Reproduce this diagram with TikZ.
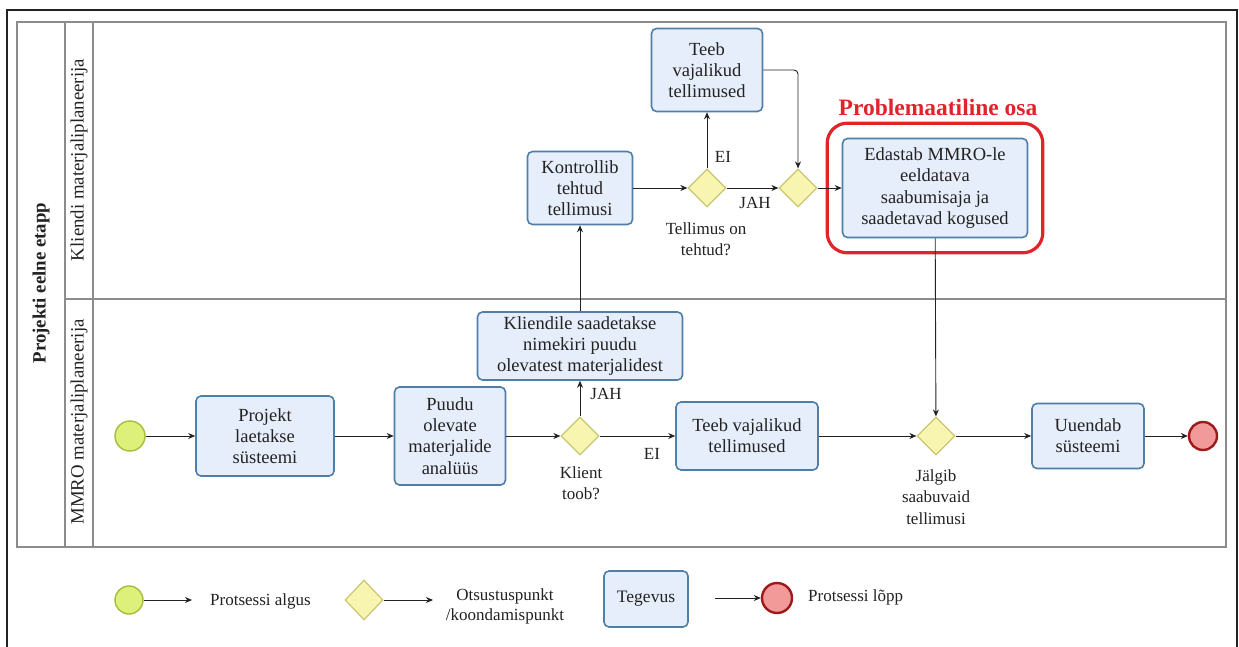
\documentclass[tikz,border=0pt]{standalone}
\usepackage{fontspec}
\setmainfont{Liberation Serif}
\usetikzlibrary{arrows.meta,shapes.geometric,fit}

\definecolor{taskfill}{HTML}{E7EEFB}
\definecolor{taskline}{HTML}{4F7FA8}
\definecolor{gatefill}{HTML}{F7F5B0}
\definecolor{gateline}{HTML}{C9C772}
\definecolor{startfill}{HTML}{DDF07A}
\definecolor{startline}{HTML}{A5BE3C}
\definecolor{endfill}{HTML}{F29A9A}
\definecolor{endline}{HTML}{9E1A1A}
\definecolor{alert}{HTML}{E0242C}
\definecolor{poolline}{HTML}{8C8C8C}
\definecolor{ink}{HTML}{222222}

\tikzset{
  task/.style={draw=taskline, fill=taskfill, rounded corners=5pt, line width=1.6pt,
    align=center, inner sep=2pt, text=ink, font=\fontsize{18.5}{21.3}\selectfont},
  gate/.style={diamond, aspect=1, draw=gateline, fill=gatefill, line width=1.2pt,
    minimum width=38pt, minimum height=38pt, inner sep=0pt},
  startev/.style={circle, draw=startline, fill=startfill, line width=1.4pt,
    minimum size=30pt, inner sep=0pt},
  endev/.style={circle, draw=endline, fill=endfill, line width=2.4pt,
    minimum size=28pt, inner sep=0pt},
  flow/.style={draw=ink, line width=0.9pt, -{Stealth[length=7pt,width=6pt]}},
  lbl/.style={text=ink, align=center, inner sep=0pt, font=\fontsize{17}{21.5}\selectfont},
  lanetxt/.style={rotate=90, text=ink, inner sep=0pt, font=\fontsize{18.8}{22}\selectfont},
  legtxt/.style={text=ink, align=center, inner sep=0pt, font=\fontsize{17}{20}\selectfont},
}

\begin{document}
\begin{tikzpicture}[x=1pt, y=-1pt]
\useasboundingbox (0,0) rectangle (1239,647);
\fill[white] (0,0) rectangle (1239,647);

% outer frame (open towards the bottom of the page)
\draw[ink, line width=1.6pt] (7,660) -- (7,10) -- (1237,10) -- (1237,660);

% pool with two lanes
\draw[poolline, line width=1.8pt] (17,22) rectangle (1226,547);
\draw[poolline, line width=1.3pt] (65,22) -- (65,547);
\draw[poolline, line width=1.3pt] (93,22) -- (93,547);
\draw[poolline, line width=1.3pt] (65,299) -- (1226,299);

\node[lanetxt, font=\fontsize{18.8}{22}\selectfont\bfseries] (pool) at (41,283) {Projekti eelne etapp};
\node[lanetxt] (laneA) at (79,160) {Kliendi materjaliplaneerija};
\node[lanetxt] (laneB) at (79,422) {MMRO materjaliplaneerija};

% lower lane
\node[startev] (start) at (130,436) {};
\node[task, minimum width=138pt, minimum height=80pt] (load) at (265,436) {Projekt\\laetakse\\süsteemi};
\node[task, minimum width=111pt, minimum height=98pt] (analysis) at (450,436) {Puudu\\olevate\\materjalide\\analüüs};
\node[gate] (gbring) at (580,436) {};
\node[task, minimum width=205pt, minimum height=68pt] (notify) at (580,346) {Kliendile saadetakse\\nimekiri puudu\\olevatest materjalidest};
\node[task, minimum width=142pt, minimum height=68pt] (orderB) at (747,436) {Teeb vajalikud\\tellimused};
\node[gate] (gtrack) at (936,436) {};
\node[task, minimum width=112pt, minimum height=65pt] (update) at (1088,436) {Uuendab\\süsteemi};
\node[endev] (finish) at (1203,436) {};

% upper lane
\node[task, minimum width=105pt, minimum height=73pt] (check) at (580,188) {Kontrollib\\tehtud\\tellimusi};
\node[gate] (gdone) at (707,188) {};
\node[task, minimum width=111pt, minimum height=83pt] (orderA) at (707,70) {Teeb\\vajalikud\\tellimused};
\node[gate] (gmerge) at (798,188) {};
\node[task, minimum width=185pt, minimum height=99pt] (forward) at (935,188) {Edastab MMRO-le\\eeldatava\\saabumisaja ja\\saadetavad kogused};
\node[draw=alert, line width=3.2pt, rounded corners=20pt, fit=(forward), inner sep=14.5pt] (focus) {};
\node[text=alert, inner sep=0pt, font=\fontsize{23.5}{26}\selectfont\bfseries] (focustitle) at (938,107) {Problemaatiline osa};

% gateway captions and branch labels
\node[lbl] (capbring) at (581,483) {Klient\\toob?};
\node[lbl] (capdone) at (706,239) {Tellimus on\\tehtud?};
\node[lbl] (captrack) at (936,497) {Jälgib\\saabuvaid\\tellimusi};
\node[lbl] (yesA) at (606,394) {JAH};
\node[lbl] (noA) at (652,454) {EI};
\node[lbl] (noB) at (723,157) {EI};
\node[lbl] (yesB) at (755,203) {JAH};

% sequence flows
\draw[flow] (start) -- (load);
\draw[flow] (load) -- (analysis);
\draw[flow] (analysis) -- (gbring);
\draw[flow] (gbring) -- (notify);
\draw[flow] (gbring) -- (orderB);
\draw[flow] (notify) -- (check);
\draw[flow] (check) -- (gdone);
\draw[flow] (gdone) -- (orderA);
\draw[flow] (gdone) -- (gmerge);
\draw[flow, rounded corners=4pt] (orderA.east) -| (gmerge.north);
\draw[flow] (gmerge) -- (forward);
\draw[flow] (forward) -- (gtrack);
\draw[flow] (orderB) -- (gtrack);
\draw[flow] (gtrack) -- (update);
\draw[flow] (update) -- (finish);

% legend
\node[startev, minimum size=28pt] (lgstart) at (129,600) {};
\coordinate (lgstartend) at (192,600);
\draw[flow] (lgstart) -- (lgstartend);
\node[legtxt, anchor=west] (lgstarttxt) at (210,601) {Protsessi algus};
\node[gate, minimum width=38pt, minimum height=40pt] (lggate) at (364,600) {};
\coordinate (lggateend) at (433,600);
\draw[flow] (lggate) -- (lggateend);
\node[legtxt] (lggatetxt) at (505,606) {Otsustuspunkt\\/koondamispunkt};
\node[task, minimum width=84pt, minimum height=56pt, font=\fontsize{17.5}{20}\selectfont] (lgtask) at (646,599) {Tegevus};
\coordinate (lgendstart) at (715,598);
\node[endev, minimum size=30pt] (lgend) at (777,598) {};
\draw[flow] (lgendstart) -- (lgend);
\node[legtxt, anchor=west] (lgendtxt) at (808,597) {Protsessi lõpp};
\end{tikzpicture}
\end{document}
